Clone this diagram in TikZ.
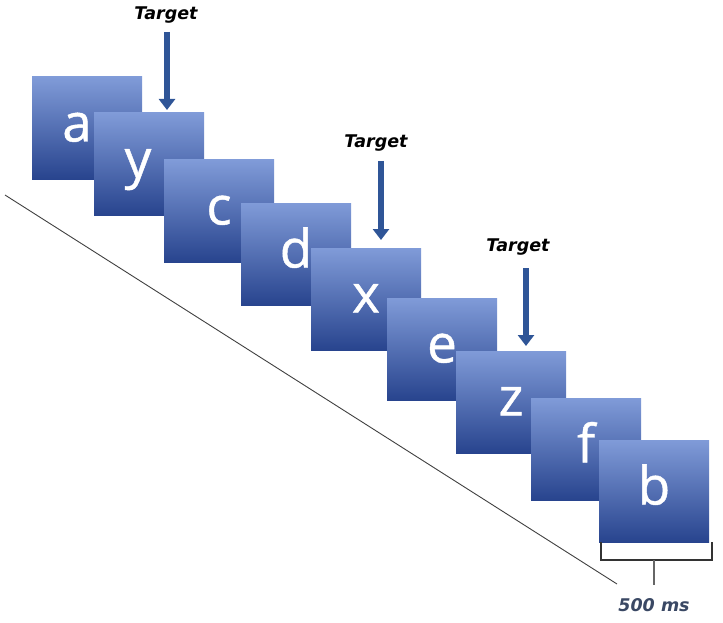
\documentclass[tikz,border=0pt]{standalone}
\usepackage{fontspec}
\usepackage{tikz}
\usetikzlibrary{arrows.meta}
\newfontfamily\letterfont[FakeBold=0.8]{Open Sans}
\newfontfamily\labelfont{DejaVu Sans}
\definecolor{boxtop}{RGB}{128,155,216}
\definecolor{boxmid}{RGB}{68,103,192}
\definecolor{boxbot}{RGB}{40,68,142}
\definecolor{pointblue}{RGB}{47,85,151}
\definecolor{msgray}{RGB}{58,72,100}

\begin{document}
\begin{tikzpicture}[
    x = 1pt, y = -1pt,
    stim/.style = {anchor = north west,
      minimum width = 110pt, minimum height = 102pt,
      inner sep = 0pt, outer sep = 0pt,
      top color = boxtop, middle color = boxmid, bottom color = boxbot,
      text = white,
      font = \letterfont\fontsize{53}{53}\selectfont,
      text height = 27pt, text depth = 0pt},
    targetlabel/.style = {font = \labelfont\bfseries\itshape\fontsize{17.5}{17.5}\selectfont},
    pointer/.style = {pointblue, line width = 6.5pt,
      -{Triangle[width = 16pt, length = 11pt]}},
    ]
    \useasboundingbox (0, 0) rectangle (723, 623);

    % time axis
    \draw [black!75, line width = 0.9pt] (5, 195) -- (617, 584);

    % letter stream
    \node at (32, 77) [stim, name = S_a] {a\hspace*{20pt}};
    \node at (94, 113) [stim, name = S_y] {y\hspace*{22pt}};
    \node at (164, 160) [stim, name = S_c] {c};
    \node at (241, 203) [stim, name = S_d] {d};
    \node at (311, 248) [stim, name = S_x] {x};
    \node at (387, 298) [stim, name = S_e] {e};
    \node at (456, 351) [stim, name = S_z] {z};
    \node at (531, 398) [stim, name = S_f] {f};
    \node at (599, 440) [stim, name = S_b] {b};

    % targets
    \node at (166, 15) [targetlabel, name = T_y] {Target};
    \node at (376, 143) [targetlabel, name = T_x] {Target};
    \node at (518, 247) [targetlabel, name = T_z] {Target};

    \coordinate (P_y) at (167, 32);
    \coordinate (P_x) at (381, 161);
    \coordinate (P_z) at (526, 268);

    \draw [pointer] (P_y) to ([yshift = 3pt] S_y.north -| P_y);
    \draw [pointer] (P_x) to ([yshift = 8pt] S_x.north -| P_x);
    \draw [pointer] (P_z) to ([yshift = 5pt] S_z.north -| P_z);

    % duration bracket
    \draw [black!80, line width = 1.4pt]
    ([xshift = 2pt] S_b.south west) -- ++(0, 18) -| ([xshift = 3pt] S_b.south east);
    \coordinate (B_mid) at ([yshift = -18pt] S_b.south);
    \coordinate (B_end) at ([yshift = -43pt] S_b.south);
    \draw [black!60, line width = 1.4pt] (B_mid) to (B_end);
    \node at ([yshift = -20pt] B_end) [targetlabel, msgray, name = D_b] {500 ms};
  \end{tikzpicture}
\end{document}
